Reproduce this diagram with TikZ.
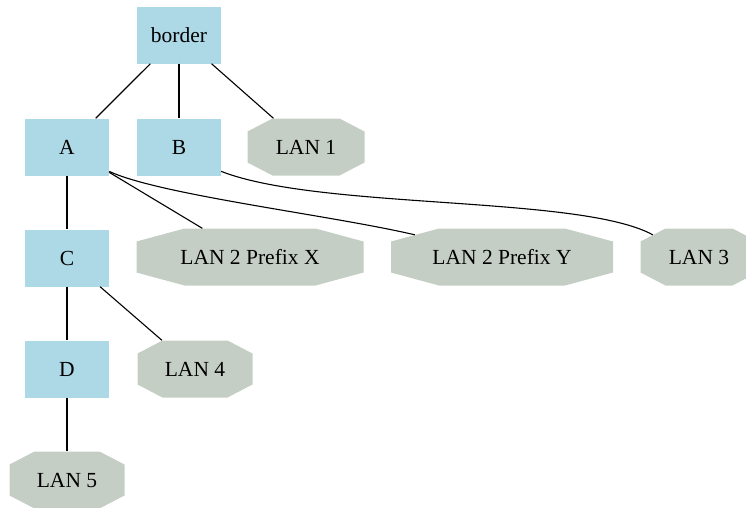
\documentclass[tikz,border=0pt]{standalone}
\usepackage{fontspec}
\setmainfont{Liberation Serif}
\usetikzlibrary{calc}
\definecolor{routerblue}{RGB}{173,216,230}
\definecolor{langray}{RGB}{197,206,196}

\begin{document}
\begin{tikzpicture}[x=1pt, y=-1pt,
    router/.style={rectangle, fill=routerblue, minimum width=84pt, minimum height=57pt,
    inner sep=0pt, font=\fontsize{21.5}{24}\selectfont},
    lan/.style={rectangle, minimum width=117pt, minimum height=57pt, inner sep=0pt,
    font=\fontsize{21.5}{24}\selectfont,
    path picture={\fill[langray] let \p1=(path picture bounding box.south west),
        \p2=(path picture bounding box.north east) in
        (\x1+#1,\y1) -- (\x2-#1,\y1) -- (\x2,\y1+13pt) -- (\x2,\y2-13pt)
        -- (\x2-#1,\y2) -- (\x1+#1,\y2) -- (\x1,\y2-13pt) -- (\x1,\y1+13pt) -- cycle;}},
    lan/.default=25pt,
    link/.style={draw=black, line width=1.1pt},]
    \useasboundingbox (0,0) rectangle (746,507);

    % routers
    \node (border) [router] at (179,35) {border};
    \node (A) [router] at (67,147) {A};
    \node (B) [router] at (179,147) {B};
    \node (C) [router] at (67,258) {C};
    \node (D) [router] at (67,369) {D};

    % networks
    \node (lan1) [lan] at (306,147) {LAN 1};
    \node (lanx) [lan=48pt, minimum width=227pt] at (250,257) {LAN 2 Prefix X};
    \node (lany) [lan=48pt, minimum width=222pt] at (502,257) {LAN 2 Prefix Y};
    \node (lan3) [lan] at (699,257) {LAN 3};
    \node (lan4) [lan, minimum width=115pt] at (195,369) {LAN 4};
    \node (lan5) [lan, minimum width=115pt] at (67,480) {LAN 5};

    \draw [link] (border) -- (A);
    \draw [link] (border) -- (B);
    \draw [link] (border) -- (lan1);
    \draw [link] (A) -- (C);
    \draw [link] (A) -- (lanx);
    \draw [link] (A.-30) .. controls (160,195) and (330,215) .. ([xshift=24pt,yshift=-6.5pt]lany.north west);
    \draw [link] (B.-30) .. controls (320,210) and (580,195) .. ([xshift=12.5pt,yshift=-6.5pt]lan3.north west);
    \draw [link] (C) -- (D);
    \draw [link] (C) -- (lan4);
    \draw [link] (D) -- (lan5);
\end{tikzpicture}
\end{document}
